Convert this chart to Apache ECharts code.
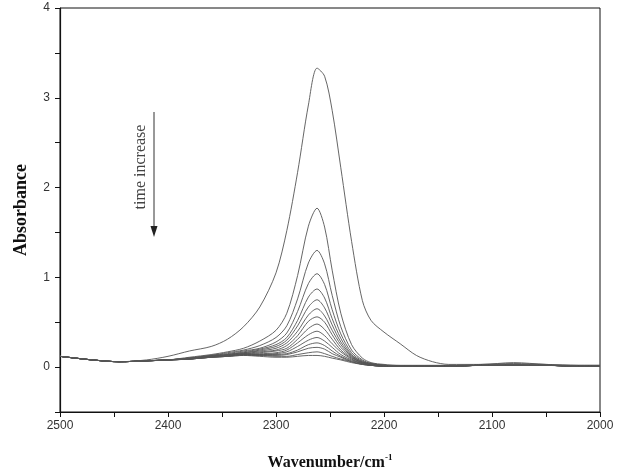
<!DOCTYPE html>
<html>
<head>
<meta charset="utf-8">
<script src="https://cdn.jsdelivr.net/npm/echarts@6/dist/echarts.min.js"></script>
<style>
  html, body { margin: 0; padding: 0; background: #fff; }
  #chart { width: 619px; height: 468px; }
</style>
</head>
<body>
<div id="chart"></div>
<script>
(function () {
    var myChart = echarts.init(document.getElementById('chart'));

    // wavenumber grid (cm-1), shared by all spectra
    var wavenumbers = [2500, 2470, 2445, 2420, 2400, 2380, 2360, 2345, 2330, 2315, 2300, 2290, 2280, 2270, 2262,
        2255, 2248, 2240, 2230, 2220, 2212, 2200, 2185, 2170, 2155, 2140, 2110, 2080, 2050, 2020, 2000];

    // absorbance of each spectrum, first (largest) to last
    var spectra = [
        [0.12, 0.08, 0.06, 0.08, 0.12, 0.18, 0.23, 0.31, 0.45, 0.67, 1.05, 1.52, 2.17, 2.92, 3.33,
         3.24, 2.86, 2.22, 1.40, 0.74, 0.52, 0.39, 0.26, 0.13, 0.06, 0.03, 0.03, 0.05, 0.03, 0.02, 0.02],
        [0.12, 0.08, 0.06, 0.07, 0.08, 0.11, 0.14, 0.17, 0.21, 0.29, 0.41, 0.60, 1.02, 1.57, 1.77,
         1.56, 1.08, 0.60, 0.25, 0.10, 0.05, 0.03, 0.02, 0.02, 0.02, 0.02, 0.03, 0.04, 0.03, 0.02, 0.02],
        [0.12, 0.08, 0.06, 0.07, 0.08, 0.10, 0.13, 0.16, 0.19, 0.24, 0.33, 0.46, 0.76, 1.16, 1.30,
         1.15, 0.80, 0.45, 0.19, 0.08, 0.04, 0.02, 0.01, 0.01, 0.01, 0.01, 0.02, 0.03, 0.02, 0.01, 0.01],
        [0.12, 0.08, 0.06, 0.07, 0.08, 0.10, 0.13, 0.15, 0.18, 0.21, 0.28, 0.38, 0.62, 0.93, 1.04,
         0.92, 0.64, 0.37, 0.16, 0.07, 0.04, 0.02, 0.01, 0.01, 0.01, 0.01, 0.02, 0.02, 0.02, 0.01, 0.01],
        [0.12, 0.08, 0.06, 0.07, 0.08, 0.10, 0.13, 0.14, 0.17, 0.20, 0.25, 0.33, 0.52, 0.78, 0.87,
         0.77, 0.54, 0.32, 0.14, 0.06, 0.04, 0.02, 0.01, 0.01, 0.01, 0.01, 0.02, 0.02, 0.02, 0.01, 0.01],
        [0.12, 0.08, 0.06, 0.07, 0.08, 0.10, 0.12, 0.14, 0.16, 0.19, 0.23, 0.30, 0.46, 0.67, 0.75,
         0.66, 0.47, 0.28, 0.13, 0.06, 0.03, 0.02, 0.01, 0.01, 0.01, 0.01, 0.02, 0.02, 0.02, 0.01, 0.01],
        [0.12, 0.08, 0.06, 0.07, 0.08, 0.10, 0.12, 0.14, 0.16, 0.18, 0.21, 0.27, 0.40, 0.58, 0.65,
         0.57, 0.41, 0.25, 0.12, 0.05, 0.03, 0.02, 0.01, 0.01, 0.01, 0.01, 0.02, 0.02, 0.02, 0.01, 0.01],
        [0.12, 0.08, 0.06, 0.07, 0.08, 0.09, 0.12, 0.13, 0.15, 0.17, 0.19, 0.24, 0.35, 0.51, 0.56,
         0.50, 0.36, 0.22, 0.11, 0.05, 0.03, 0.01, 0.01, 0.01, 0.01, 0.01, 0.02, 0.02, 0.02, 0.01, 0.01],
        [0.12, 0.08, 0.06, 0.07, 0.08, 0.09, 0.12, 0.13, 0.15, 0.16, 0.18, 0.21, 0.31, 0.43, 0.48,
         0.42, 0.31, 0.19, 0.10, 0.05, 0.03, 0.01, 0.01, 0.01, 0.01, 0.01, 0.02, 0.02, 0.02, 0.01, 0.01],
        [0.12, 0.08, 0.06, 0.07, 0.08, 0.09, 0.12, 0.13, 0.15, 0.15, 0.16, 0.19, 0.27, 0.36, 0.40,
         0.35, 0.26, 0.17, 0.09, 0.04, 0.02, 0.01, 0.01, 0.01, 0.01, 0.01, 0.02, 0.02, 0.02, 0.01, 0.01],
        [0.12, 0.08, 0.06, 0.07, 0.08, 0.09, 0.11, 0.13, 0.14, 0.14, 0.15, 0.17, 0.23, 0.30, 0.33,
         0.29, 0.22, 0.14, 0.08, 0.04, 0.02, 0.01, 0.01, 0.01, 0.01, 0.01, 0.02, 0.02, 0.02, 0.01, 0.01],
        [0.12, 0.08, 0.06, 0.07, 0.08, 0.09, 0.11, 0.12, 0.14, 0.14, 0.14, 0.15, 0.19, 0.25, 0.27,
         0.24, 0.18, 0.12, 0.07, 0.04, 0.02, 0.01, 0.01, 0.01, 0.01, 0.01, 0.02, 0.02, 0.02, 0.01, 0.01],
        [0.12, 0.08, 0.06, 0.07, 0.08, 0.09, 0.11, 0.12, 0.14, 0.13, 0.13, 0.14, 0.17, 0.21, 0.22,
         0.20, 0.15, 0.11, 0.06, 0.03, 0.02, 0.01, 0.01, 0.01, 0.01, 0.01, 0.02, 0.02, 0.02, 0.01, 0.01],
        [0.12, 0.08, 0.06, 0.07, 0.08, 0.09, 0.11, 0.12, 0.13, 0.13, 0.12, 0.12, 0.14, 0.16, 0.17,
         0.15, 0.12, 0.09, 0.06, 0.03, 0.02, 0.01, 0.01, 0.01, 0.01, 0.01, 0.02, 0.02, 0.02, 0.01, 0.01],
        [0.12, 0.08, 0.06, 0.07, 0.08, 0.09, 0.11, 0.12, 0.13, 0.12, 0.11, 0.11, 0.12, 0.13, 0.13,
         0.12, 0.10, 0.08, 0.05, 0.03, 0.02, 0.01, 0.01, 0.01, 0.01, 0.01, 0.02, 0.02, 0.02, 0.01, 0.01]
    ];

    var series = spectra.map(function (vals, i) {
        return {
            name: 'spectrum ' + (i + 1),
            type: 'line',
            smooth: 0.3,
            symbol: 'none',
            lineStyle: { color: '#555', width: 0.9 },
            data: vals.map(function (v, j) { return [wavenumbers[j], v]; })
        };
    });

    var option = {
        animation: false,
        grid: {
            left: 60, right: 19, top: 8, bottom: 56,
            outerBoundsMode: 'none',
            containLabel: false,
            show: true, borderColor: '#111', borderWidth: 1
        },
        xAxis: {
            type: 'value',
            min: 2000, max: 2500, interval: 100,
            inverse: true,
            axisLine: { onZero: false, lineStyle: { color: '#111', width: 1.2 } },
            axisTick: { inside: false, length: 5, lineStyle: { color: '#111' } },
            minorTick: { show: true, splitNumber: 2, length: 5, lineStyle: { color: '#111' } },
            splitLine: { show: false },
            axisLabel: {
                color: '#333', fontSize: 12, fontFamily: 'Liberation Sans, Arial', margin: 8,
                formatter: function (v) { return String(v); }
            },
            name: '{b|Wavenumber/cm}{sup|-1}',
            nameLocation: 'middle',
            nameGap: 41,
            nameTextStyle: {
                rich: {
                    b: { fontFamily: 'Liberation Serif, Times New Roman', fontWeight: 'bold', fontSize: 16, color: '#111' },
                    sup: { fontFamily: 'Liberation Serif, Times New Roman', fontWeight: 'bold', fontSize: 9, color: '#111', verticalAlign: 'top', padding: [0, 0, 10, 0] }
                }
            }
        },
        yAxis: {
            type: 'value',
            min: -0.5, max: 4, interval: 0.5,
            axisLine: { show: true, onZero: false, lineStyle: { color: '#111', width: 1.2 } },
            axisTick: { show: true, inside: false, length: 5, lineStyle: { color: '#111' } },
            splitLine: { show: false },
            axisLabel: {
                color: '#333', fontSize: 12, fontFamily: 'Liberation Sans, Arial', margin: 10,
                formatter: function (v) { return v % 1 === 0 ? String(v) : ''; }
            },
            name: 'Absorbance',
            nameLocation: 'middle',
            nameRotate: 90,
            nameGap: 30,
            nameTextStyle: { fontFamily: 'Liberation Serif, Times New Roman', fontWeight: 'bold', fontSize: 18, color: '#111' }
        },
        graphic: [
            {
                type: 'text', x: 141, y: 167, rotation: Math.PI / 2,
                style: { text: 'time increase', font: '16px "Liberation Serif"', fill: '#444', align: 'center', verticalAlign: 'middle' }
            },
            {
                type: 'line', shape: { x1: 154, y1: 112, x2: 154, y2: 228 },
                style: { stroke: '#333', lineWidth: 1 }
            },
            {
                type: 'polygon', shape: { points: [[150.5, 226], [157.5, 226], [154, 237]] },
                style: { fill: '#222' }
            }
        ],
        series: series
    };
    myChart.setOption(option);
    window.addEventListener('resize', function () {
        myChart.resize();
    });
})();
</script>
</body>
</html>
